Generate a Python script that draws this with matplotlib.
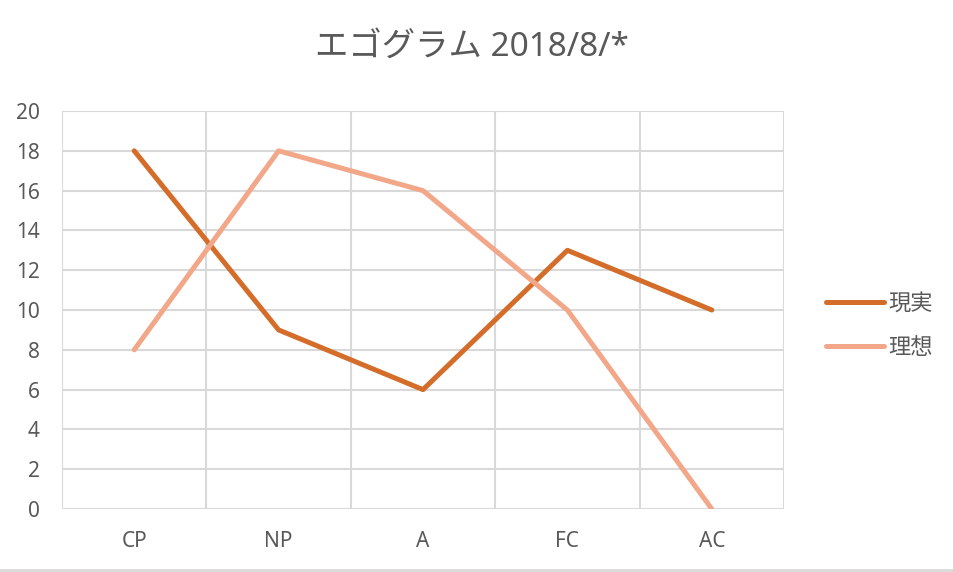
import numpy as np
from matplotlib import pyplot as plt

plt.rcParams['font.family'] = ['Noto Sans', 'Noto Sans CJK JP', 'DejaVu Sans']

# データ
categories = ['CP', 'NP', 'A', 'FC', 'AC']
genjitsu = [18, 9, 6, 13, 10]   # 現実
risou = [8, 18, 16, 10, 0]      # 理想
y_ticks = list(range(0, 21, 2))

text_color = '#595959'
grid_color = '#D9D9D9'

fig = plt.figure(figsize=(9.54, 5.72), dpi=100)
ax = fig.add_axes([0.065, 0.1101, 0.7568, 0.6958])

x = np.arange(len(categories)) + 0.5
ax.plot(x, genjitsu, color='#D46C2A', lw=3.6, solid_capstyle='round', label='現実', zorder=3)
ax.plot(x, risou, color='#F3A789', lw=3.6, solid_capstyle='round', label='理想', zorder=3)

ax.set_xlim(0, len(categories))
ax.set_ylim(0, 20)
ax.set_xticks(x)
ax.set_xticklabels(categories)
ax.set_xticks(np.arange(len(categories) + 1), minor=True)
ax.set_yticks(y_ticks)

ax.grid(axis='y', which='major', color=grid_color, lw=1.5)
ax.grid(axis='x', which='minor', color=grid_color, lw=1.5)
ax.set_axisbelow(True)
for s in ax.spines.values():
    s.set_visible(False)
ax.tick_params(axis='both', which='both', length=0, labelsize=15, colors=text_color)
ax.tick_params(axis='y', pad=16)
ax.tick_params(axis='x', pad=16)

fig.text(0.495, 0.918, 'エゴグラム 2018/8/*', ha='center', va='center',
         fontsize=24, color=text_color)

leg = fig.legend(loc='center left', bbox_to_anchor=(0.845, 0.43), frameon=False,
                 fontsize=16, handlelength=2.6, handletextpad=0.2, labelspacing=1.05)
for t in leg.get_texts():
    t.set_color(text_color)

# 下の枠線
fig.add_artist(plt.Line2D([0, 1], [0.003, 0.003], color=grid_color, lw=2,
                          transform=fig.transFigure))

plt.savefig('out.png', dpi=100)
